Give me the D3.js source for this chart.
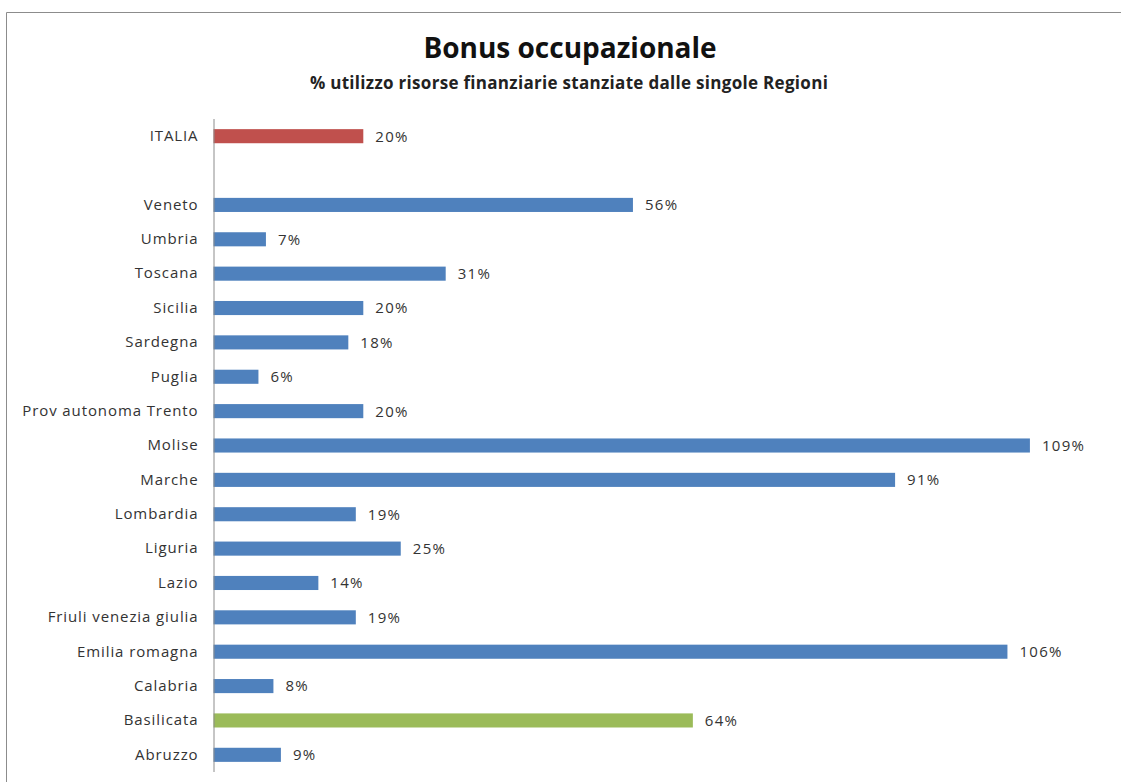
<!DOCTYPE html>
<html>
<head>
<meta charset="utf-8">
<script src="https://cdn.jsdelivr.net/npm/d3@7"></script>
<style>
  body { margin: 0; background: #fff; }
  svg text { font-family: "Open Sans", "Noto Sans", sans-serif; }
</style>
</head>
<body>
<div id="chart"></div>
<script>
// categories top to bottom, "" is the empty row under ITALIA
const regions = ["ITALIA", "", "Veneto", "Umbria", "Toscana", "Sicilia", "Sardegna", "Puglia",
  "Prov autonoma Trento", "Molise", "Marche", "Lombardia", "Liguria", "Lazio",
  "Friuli venezia giulia", "Emilia romagna", "Calabria", "Basilicata", "Abruzzo"];
const usage = [20, null, 56, 7, 31, 20, 18, 6, 20, 109, 91, 19, 25, 14, 19, 106, 8, 64, 9];
const titleText = "Bonus occupazionale";
const subtitleText = "% utilizzo risorse finanziarie stanziate dalle singole Regioni";

function drawChart() {
  const width = 1121, height = 782;
  const margin = { top: 119, right: 9, bottom: 10, left: 213.5 };

  const svg = d3.select("#chart")
    .append("svg")
    .attr("width", width)
    .attr("height", height);

  // chart frame (only top and left show in the picture)
  svg.append("path")
    .attr("d", "M6.5," + height + " V12.5 H" + width)
    .attr("fill", "none")
    .attr("stroke", "#8c8c8c")
    .attr("stroke-width", 1);

  svg.append("text")
    .attr("x", 570)
    .attr("y", 58)
    .attr("text-anchor", "middle")
    .style("font-size", "28px")
    .style("font-weight", "bold")
    .attr("fill", "#111")
    .text(titleText);

  svg.append("text")
    .attr("x", 569)
    .attr("y", 89)
    .attr("text-anchor", "middle")
    .style("font-size", "17px")
    .style("font-weight", "bold")
    .style("letter-spacing", "0.3px")
    .attr("fill", "#222")
    .text(subtitleText);

  const data = regions.map((r, i) => ({ region: r, value: usage[i] }));

  const y = d3.scaleBand()
    .domain(regions)
    .range([margin.top, 772])
    .paddingInner(0.59)
    .paddingOuter(0.295);

  const x = d3.scaleLinear()
    .domain([0, 120])
    .range([margin.left, margin.left + 120 * 7.49]);

  const colorFor = (d) => d.region === "ITALIA" ? "#c0504d"
    : d.region === "Basilicata" ? "#9bbb59" : "#4f81bd";

  const g = svg.append("g");

  g.selectAll("rect.bar")
    .data(data.filter((d) => d.value != null))
    .join("rect")
    .attr("class", "bar")
    .attr("x", x(0))
    .attr("y", (d) => y(d.region))
    .attr("width", (d) => x(d.value) - x(0))
    .attr("height", y.bandwidth())
    .attr("fill", colorFor);

  g.selectAll("text.val")
    .data(data.filter((d) => d.value != null))
    .join("text")
    .attr("class", "val")
    .attr("x", (d) => x(d.value) + 12)
    .attr("y", (d) => y(d.region) + y.bandwidth() / 2)
    .attr("dy", "0.36em")
    .style("font-size", "15px")
    .style("letter-spacing", "1.3px")
    .attr("fill", "#333")
    .text((d) => d.value + "%");

  // category axis
  const yAxis = svg.append("g")
    .attr("transform", "translate(" + margin.left + ",0)")
    .call(d3.axisLeft(y).tickSize(0).tickPadding(15));
  yAxis.select(".domain")
    .attr("d", "M0.5," + (margin.top) + " V772")
    .attr("stroke", "#8c8c8c");
  yAxis.selectAll("text")
    .style("font-size", "15px")
    .style("letter-spacing", "0.9px")
    .attr("fill", "#333");
}

drawChart();
</script>
</body>
</html>
